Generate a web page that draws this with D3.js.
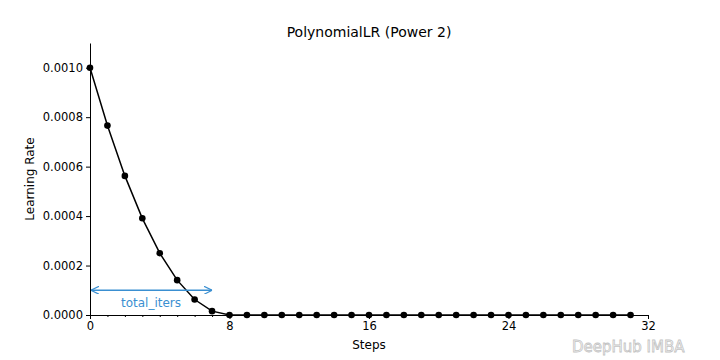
<!DOCTYPE html>
<html><head><meta charset="utf-8">
<script src="https://cdn.jsdelivr.net/npm/d3@7"></script>
<style>body{margin:0;background:#fff}svg{display:block}text{font-family:"DejaVu Sans",sans-serif}</style>
</head><body><svg id="c" width="720" height="360"></svg>
<script>
const steps = [0,1,2,3,4,5,6,7,8,9,10,11,12,13,14,15,16,17,18,19,20,21,22,23,24,25,26,27,28,29,30,31];
const lr = [0.001,0.000766,0.0005625,0.000391,0.00025,0.000141,0.0000625,0.0000156,0,0,0,0,0,0,0,0,0,0,0,0,0,0,0,0,0,0,0,0,0,0,0,0];
const xTicks = [0,8,16,24,32];
const yTicks = [0,0.0002,0.0004,0.0006,0.0008,0.0010];
const annot = {x0:0, x1:7, y:0.0001, label:"total_iters"};

const svg = d3.select("#c");
const x = d3.scaleLinear().domain([0,32]).range([90,648]);
const y = d3.scaleLinear().domain([0,0.0011]).range([315,43]);

svg.append("g").attr("transform","translate(0,315)")
  .call(d3.axisBottom(x).tickValues(xTicks).tickFormat(d3.format("d")).tickSize(4).tickSizeOuter(0));
svg.append("g").attr("transform","translate(0,315)")
  .call(d3.axisBottom(x).tickValues(d3.range(0,33).filter(d=>d%8)).tickFormat("").tickSize(2).tickSizeOuter(0))
  .select(".domain").remove();
svg.append("g").attr("transform","translate(90,0)")
  .call(d3.axisLeft(y).tickValues(yTicks).tickFormat(d3.format(".4f")).tickSize(4).tickSizeOuter(0));
svg.selectAll(".tick text").attr("font-size",11.5).attr("fill","#000").attr("font-family","DejaVu Sans");
svg.selectAll(".domain, .tick line").attr("stroke","#000").attr("stroke-width",1);

svg.append("path").datum(steps.map((s,i)=>[s,lr[i]]))
  .attr("fill","none").attr("stroke","#000").attr("stroke-width",1.5)
  .attr("d", d3.line().x(d=>x(d[0])).y(d=>y(d[1])));
svg.selectAll("circle.p").data(steps.map((s,i)=>[s,lr[i]])).join("circle")
  .attr("class","p").attr("cx",d=>x(d[0])).attr("cy",d=>y(d[1])).attr("r",3.3).attr("fill","#000");

const blue = "#3a8fd1";
const defs = svg.append("defs");
defs.append("marker").attr("id","ah").attr("viewBox","0 0 10 10").attr("refX",10).attr("refY",5)
  .attr("markerWidth",8).attr("markerHeight",8).attr("markerUnits","userSpaceOnUse").attr("orient","auto-start-reverse")
  .append("path").attr("d","M0,0 L10,5 L0,10").attr("fill","none").attr("stroke",blue).attr("stroke-width",1.5);
svg.append("line").attr("x1",x(annot.x0)+1).attr("x2",x(annot.x1)).attr("y1",y(annot.y)).attr("y2",y(annot.y))
  .attr("stroke",blue).attr("stroke-width",1.5).attr("marker-start","url(#ah)").attr("marker-end","url(#ah)");
svg.append("text").attr("x",x((annot.x0+annot.x1)/2)).attr("y",y(annot.y)+17).attr("text-anchor","middle")
  .attr("font-size",12).attr("fill",blue).text(annot.label);

svg.append("text").attr("x",369).attr("y",37).attr("text-anchor","middle").attr("font-size",14).text("PolynomialLR (Power 2)");
svg.append("text").attr("x",369).attr("y",349).attr("text-anchor","middle").attr("font-size",12).text("Steps");
svg.append("text").attr("transform","translate(34,179) rotate(-90)").attr("text-anchor","middle").attr("font-size",12).text("Learning Rate");

svg.append("text").attr("x",572).attr("y",352).attr("font-size",15).attr("fill","#fff").attr("stroke","#c4c4c4").attr("stroke-width",0.8)
  .attr("font-family","Noto Sans").text("DeepHub IMBA");
</script></body></html>
